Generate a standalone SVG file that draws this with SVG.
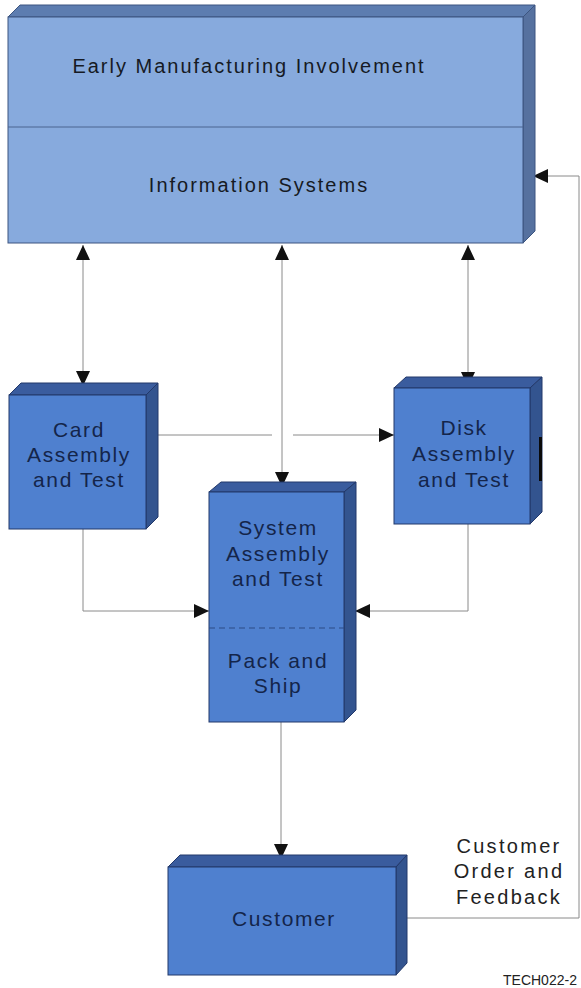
<svg xmlns="http://www.w3.org/2000/svg" width="581" height="988" viewBox="0 0 581 988">
<defs>
<style>
.bg{fill:#ffffff}
.lf{fill:#87aadd;stroke:#3c5580;stroke-width:1}
.lt{fill:#5d7db0;stroke:#3c5580;stroke-width:1}
.ls{fill:#56719f;stroke:#3c5580;stroke-width:1}
.nf{fill:#4f80cf;stroke:#22386a;stroke-width:1}
.nt{fill:#3a5c9e;stroke:#22386a;stroke-width:1}
.ns{fill:#33548f;stroke:#22386a;stroke-width:1}
.div{stroke:#4a6490;stroke-width:1;fill:none}
.dash{stroke:#2c4a85;stroke-width:1;stroke-dasharray:6 4;fill:none}
.t1{font-family:"Liberation Sans",Arial,sans-serif;font-size:20px;letter-spacing:2px;fill:#161a24;text-anchor:middle}
.t2{font-family:"Liberation Sans",Arial,sans-serif;font-size:21px;letter-spacing:1.6px;fill:#14254a;text-anchor:middle}
.t3{font-family:"Liberation Sans",Arial,sans-serif;font-size:20px;letter-spacing:2.3px;fill:#222222;text-anchor:middle}
.t4{font-family:"Liberation Sans",Arial,sans-serif;font-size:14px;fill:#222222}
.c{stroke:#8a8a8a;stroke-width:1;fill:none}
</style>
<marker id="ah" viewBox="0 0 15 14" refX="15" refY="7" markerWidth="15" markerHeight="14" markerUnits="userSpaceOnUse" orient="auto-start-reverse">
<path d="M0,0 L15,7 L0,14 Z" fill="#111111"/>
</marker>
</defs>
<rect class="bg" x="0" y="0" width="581" height="988"/>

<g id="connectors">
<line class="c" x1="83" y1="245" x2="83" y2="386" marker-start="url(#ah)" marker-end="url(#ah)"/>
<line class="c" x1="282" y1="245" x2="282" y2="487" marker-start="url(#ah)" marker-end="url(#ah)"/>
<line class="c" x1="468" y1="245" x2="468" y2="387" marker-start="url(#ah)" marker-end="url(#ah)"/>
<line class="c" x1="157" y1="435" x2="272" y2="435"/>
<line class="c" x1="293" y1="435" x2="394" y2="435" marker-end="url(#ah)"/>
<polyline class="c" points="83,529 83,611 209,611" marker-end="url(#ah)"/>
<polyline class="c" points="468,524 468,611 355,611" marker-end="url(#ah)"/>
<line class="c" x1="281" y1="722" x2="281" y2="859" marker-end="url(#ah)"/>
<polyline class="c" points="406,918 579,918 579,176 533,176" marker-end="url(#ah)"/>
</g>

<g id="top-box">
<polygon class="lt" points="8,17 20,5 535,5 523,17"/>
<polygon class="ls" points="523,17 535,5 535,231 523,243"/>
<rect class="lf" x="8" y="17" width="515" height="226"/>
<line class="div" x1="8" y1="127" x2="523" y2="127"/>
<text class="t1" x="249" y="73">Early Manufacturing Involvement</text>
<text class="t1" x="259" y="192">Information Systems</text>
</g>

<g id="card">
<polygon class="nt" points="9,395 21,383 158,383 146,395"/>
<polygon class="ns" points="146,395 158,383 158,517 146,529"/>
<rect class="nf" x="9" y="395" width="137" height="134"/>
<text class="t2" x="79" y="437">Card</text>
<text class="t2" x="79" y="462">Assembly</text>
<text class="t2" x="79" y="487">and Test</text>
</g>

<g id="disk">
<polygon class="nt" points="394,388 406,377 542,377 530,388"/>
<polygon class="ns" points="530,388 542,377 542,512 530,524"/>
<rect class="nf" x="394" y="388" width="136" height="136"/>
<rect x="539" y="437" width="3" height="44" fill="#0a0a0a"/>
<text class="t2" x="464" y="435">Disk</text>
<text class="t2" x="464" y="461">Assembly</text>
<text class="t2" x="464" y="487">and Test</text>
</g>

<g id="system">
<polygon class="nt" points="209,492 221,482 356,482 344,492"/>
<polygon class="ns" points="344,492 356,482 356,710 344,722"/>
<rect class="nf" x="209" y="492" width="135" height="230"/>
<line class="dash" x1="209" y1="628" x2="344" y2="628"/>
<text class="t2" x="278" y="535">System</text>
<text class="t2" x="278" y="561">Assembly</text>
<text class="t2" x="278" y="586">and Test</text>
<text class="t2" x="278" y="668">Pack and</text>
<text class="t2" x="278" y="693">Ship</text>
</g>

<g id="customer">
<polygon class="nt" points="168,867 180,855 407,855 396,867"/>
<polygon class="ns" points="396,867 407,855 407,963 396,975"/>
<rect class="nf" x="168" y="867" width="228" height="108"/>
<text class="t2" x="284" y="926">Customer</text>
</g>

<g id="labels">
<text class="t3" x="509" y="853">Customer</text>
<text class="t3" x="509" y="878">Order and</text>
<text class="t3" x="509" y="904">Feedback</text>
<text class="t4" x="503" y="985">TECH022-2</text>
</g>
</svg>
